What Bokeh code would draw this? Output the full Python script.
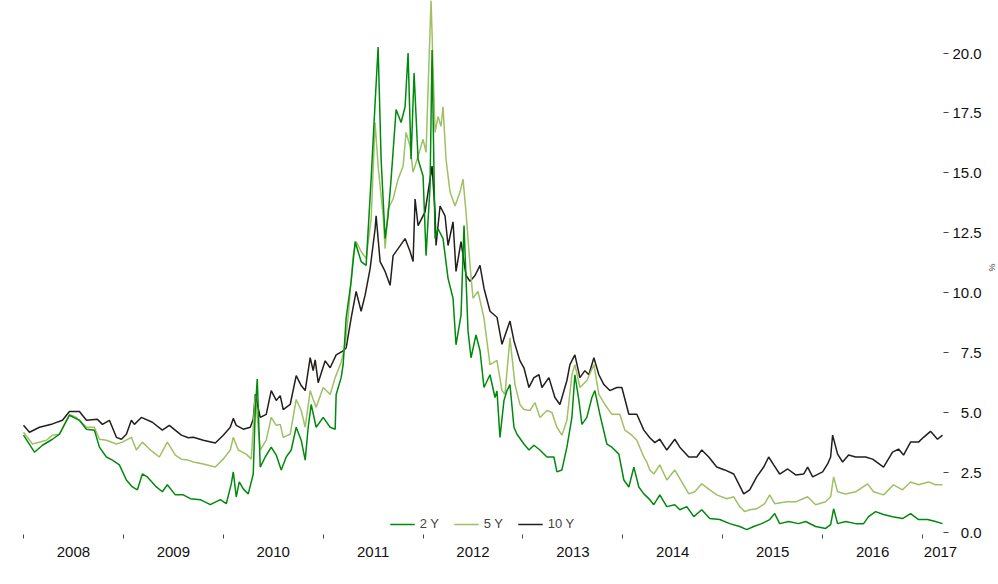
from bokeh.plotting import figure
from bokeh.models import (Range1d, LinearAxis, FixedTicker, CustomJSTickFormatter,
                          Legend, LegendItem)
from bokeh.embed import file_html
from bokeh.resources import INLINE

# ---- data (decimal years, % yields) ----
yr_10y = [2008.00,2008.06,2008.16,2008.29,2008.39,2008.46,2008.56,2008.63,2008.74,2008.79,
          2008.86,2008.93,2008.98,2009.03,2009.08,2009.11,2009.18,2009.29,2009.39,2009.46,
          2009.58,2009.65,2009.70,2009.80,2009.92,2010.00,2010.07,2010.10,2010.13,2010.20,
          2010.27,2010.30,2010.32,2010.37,2010.43,2010.48,2010.53,2010.57,2010.60,2010.67,
          2010.73,2010.78,2010.82,2010.87,2010.90,2010.92,2010.95,2011.02,2011.07,2011.13,
          2011.20,2011.23,2011.28,2011.33,2011.38,2011.42,2011.47,2011.52,2011.53,2011.57,
          2011.62,2011.67,2011.70,2011.75,2011.82,2011.87,2011.90,2011.92,2011.95,2012.00,
          2012.02,2012.05,2012.09,2012.12,2012.13,2012.17,2012.22,2012.25,2012.30,2012.33,
          2012.38,2012.43,2012.47,2012.52,2012.57,2012.61,2012.67,2012.74,2012.79,2012.87,
          2012.91,2012.97,2013.01,2013.06,2013.11,2013.16,2013.19,2013.26,2013.32,2013.37,
          2013.44,2013.47,2013.52,2013.57,2013.62,2013.66,2013.71,2013.76,2013.81,2013.87,
          2013.94,2013.99,2014.06,2014.14,2014.21,2014.27,2014.32,2014.37,2014.44,2014.52,
          2014.57,2014.66,2014.74,2014.79,2014.86,2014.94,2015.02,2015.11,2015.16,2015.21,
          2015.27,2015.34,2015.41,2015.46,2015.51,2015.57,2015.65,2015.73,2015.81,2015.85,
          2015.90,2016.00,2016.05,2016.08,2016.10,2016.15,2016.20,2016.26,2016.33,2016.43,
          2016.50,2016.61,2016.70,2016.76,2016.81,2016.88,2016.96,2017.01,2017.08,2017.15,
          2017.20]
yield_10y = [4.47,4.18,4.39,4.53,4.68,5.05,5.05,4.68,4.72,4.51,
             4.68,3.97,3.89,4.10,4.68,4.51,4.80,4.60,4.27,4.47,
             4.06,3.95,3.97,3.85,3.73,4.06,4.39,4.76,4.47,4.31,
             4.39,4.72,5.76,4.80,4.93,5.92,5.51,5.71,5.13,5.34,
             6.54,6.13,5.92,7.29,6.75,7.20,6.25,7.16,6.87,7.41,
             7.58,7.70,8.94,10.06,9.23,9.90,11.01,12.67,13.21,11.30,
             10.89,10.31,11.55,11.84,12.26,11.72,11.30,13.91,12.80,13.21,
             13.37,14.20,15.28,13.37,11.97,13.62,13.21,11.97,12.96,10.89,
             12.13,10.72,10.48,10.72,11.14,10.19,9.23,8.98,7.85,8.82,
             7.99,7.16,6.87,6.05,6.46,6.58,6.05,6.46,5.63,5.34,
             6.34,7.00,7.41,6.46,6.75,6.58,7.29,6.58,6.17,5.92,
             6.05,6.05,4.93,4.93,4.27,3.95,3.75,3.89,3.44,3.89,
             3.56,3.15,3.15,3.44,3.15,2.73,2.61,2.44,2.03,1.61,
             1.78,2.32,2.73,3.15,2.82,2.44,2.65,2.40,2.44,2.73,
             2.32,2.53,2.86,3.15,4.06,3.27,2.94,3.23,3.15,3.15,
             3.06,2.73,3.35,3.48,3.23,3.77,3.77,3.97,4.22,3.89,
             4.06]

yr_5y = [2008.00,2008.09,2008.23,2008.29,2008.36,2008.46,2008.53,2008.63,2008.71,2008.76,
         2008.83,2008.93,2008.99,2009.08,2009.13,2009.19,2009.26,2009.36,2009.44,2009.52,
         2009.58,2009.65,2009.70,2009.80,2009.92,2010.00,2010.07,2010.10,2010.15,2010.23,
         2010.28,2010.32,2010.37,2010.43,2010.48,2010.53,2010.57,2010.60,2010.67,2010.73,
         2010.78,2010.82,2010.87,2010.90,2010.93,2011.00,2011.07,2011.12,2011.18,2011.22,
         2011.25,2011.30,2011.33,2011.38,2011.43,2011.48,2011.52,2011.55,2011.60,2011.62,
         2011.65,2011.70,2011.75,2011.80,2011.83,2011.87,2011.90,2011.95,2012.00,2012.03,
         2012.05,2012.08,2012.12,2012.15,2012.18,2012.20,2012.23,2012.27,2012.32,2012.37,
         2012.40,2012.43,2012.47,2012.50,2012.55,2012.61,2012.67,2012.74,2012.79,2012.82,
         2012.87,2012.92,2012.97,2013.01,2013.07,2013.12,2013.17,2013.24,2013.29,2013.34,
         2013.39,2013.44,2013.49,2013.52,2013.57,2013.64,2013.71,2013.76,2013.82,2013.89,
         2013.97,2014.02,2014.09,2014.14,2014.21,2014.24,2014.27,2014.31,2014.37,2014.44,
         2014.52,2014.59,2014.66,2014.72,2014.79,2014.87,2014.94,2015.04,2015.11,2015.17,
         2015.22,2015.27,2015.34,2015.42,2015.47,2015.52,2015.64,2015.73,2015.85,2015.93,
         2016.03,2016.08,2016.11,2016.15,2016.23,2016.33,2016.45,2016.51,2016.61,2016.71,
         2016.80,2016.88,2016.96,2017.06,2017.13,2017.20]
yield_5y = [4.18,3.69,3.85,4.06,4.10,4.93,4.80,4.39,4.39,3.89,
            3.85,3.69,3.77,3.97,3.44,3.77,3.48,3.15,3.77,3.23,
            3.06,3.02,2.94,2.86,2.73,3.06,3.44,3.97,3.44,3.27,
            3.06,5.71,3.44,3.85,4.80,4.47,4.51,3.97,4.10,5.55,
            5.09,4.39,5.92,5.55,5.22,6.05,5.76,6.46,7.10,7.80,
            9.00,11.55,12.13,11.72,11.43,13.08,17.10,15.28,13.21,11.84,
            13.50,13.91,14.74,15.28,16.69,16.11,15.03,15.69,16.40,15.86,
            18.47,22.20,16.69,17.35,16.94,17.76,15.57,14.20,13.62,14.20,
            14.74,13.37,11.14,9.77,10.06,8.94,7.00,7.18,5.92,5.76,
            8.12,6.17,5.34,5.13,5.09,5.42,4.80,5.09,5.01,4.39,
            4.06,4.68,6.58,7.00,6.05,6.34,7.00,5.76,5.34,4.93,
            4.93,4.27,4.06,3.85,3.15,2.94,2.61,2.44,2.82,2.19,
            2.61,2.11,1.61,1.70,2.03,1.78,1.57,1.41,1.49,1.08,
            0.87,0.95,0.99,1.20,1.57,1.20,1.28,1.28,1.49,1.16,
            1.28,1.49,2.32,1.70,1.61,1.70,2.03,1.70,1.57,1.99,
            1.78,2.11,1.99,2.11,1.99,1.99]

yr_2y = [2008.00,2008.11,2008.19,2008.29,2008.36,2008.46,2008.56,2008.63,2008.71,2008.76,
         2008.83,2008.89,2008.96,2009.03,2009.09,2009.14,2009.19,2009.24,2009.33,2009.39,
         2009.44,2009.52,2009.60,2009.67,2009.77,2009.87,2009.97,2010.03,2010.08,2010.10,
         2010.13,2010.16,2010.20,2010.25,2010.30,2010.32,2010.34,2010.37,2010.42,2010.48,
         2010.53,2010.58,2010.63,2010.68,2010.73,2010.78,2010.82,2010.85,2010.88,2010.93,
         2011.00,2011.07,2011.12,2011.13,2011.18,2011.20,2011.23,2011.28,2011.32,2011.38,
         2011.43,2011.48,2011.52,2011.55,2011.58,2011.62,2011.65,2011.68,2011.73,2011.78,
         2011.82,2011.85,2011.88,2011.91,2011.95,2012.00,2012.03,2012.07,2012.09,2012.12,
         2012.15,2012.20,2012.25,2012.30,2012.33,2012.38,2012.41,2012.45,2012.48,2012.53,
         2012.57,2012.61,2012.67,2012.72,2012.74,2012.77,2012.81,2012.84,2012.87,2012.91,
         2012.94,2013.01,2013.06,2013.11,2013.17,2013.24,2013.31,2013.34,2013.39,2013.44,
         2013.49,2013.52,2013.56,2013.59,2013.64,2013.69,2013.72,2013.77,2013.84,2013.89,
         2013.96,2014.01,2014.06,2014.11,2014.16,2014.21,2014.27,2014.31,2014.37,2014.44,
         2014.52,2014.57,2014.64,2014.71,2014.79,2014.87,2014.97,2015.07,2015.17,2015.24,
         2015.31,2015.39,2015.47,2015.52,2015.57,2015.66,2015.76,2015.83,2015.93,2016.03,
         2016.08,2016.11,2016.15,2016.23,2016.33,2016.41,2016.46,2016.53,2016.61,2016.70,
         2016.80,2016.88,2016.96,2017.05,2017.13,2017.20]
yield_2y = [4.06,3.35,3.64,3.89,4.10,4.89,4.68,4.31,4.27,3.56,
            3.15,3.02,2.82,2.19,1.90,1.78,2.44,2.32,1.90,1.70,
            1.99,1.57,1.57,1.41,1.37,1.16,1.37,1.20,2.03,2.53,
            1.49,2.11,1.82,1.61,2.44,5.09,6.40,2.73,3.15,3.56,
            3.23,2.61,3.15,3.44,4.39,3.85,3.02,4.39,5.34,4.39,
            4.80,4.39,4.31,5.76,6.46,7.00,8.94,10.48,12.13,11.30,
            11.14,14.74,17.93,20.25,15.57,12.26,13.21,14.74,17.64,17.10,
            17.76,20.00,15.57,19.17,15.57,14.87,11.55,14.45,20.12,12.26,
            12.67,12.26,10.60,9.77,7.83,9.07,12.80,8.41,7.29,8.24,
            7.58,6.05,6.58,5.63,5.90,3.97,5.51,5.92,6.17,4.39,
            4.10,3.69,3.44,3.64,3.44,3.15,3.15,2.53,2.61,3.56,
            4.80,6.58,5.51,4.51,4.80,5.63,5.92,4.93,3.69,3.56,
            3.27,2.19,1.90,2.73,1.90,1.61,1.37,1.16,1.57,1.08,
            1.16,0.95,1.08,0.66,0.95,0.58,0.54,0.37,0.25,0.12,
            0.25,0.37,0.54,0.79,0.37,0.46,0.37,0.46,0.25,0.17,
            0.33,0.99,0.37,0.46,0.37,0.37,0.66,0.87,0.75,0.66,
            0.58,0.79,0.54,0.54,0.46,0.37]

year_starts = [2008, 2009, 2010, 2011, 2012, 2013, 2014, 2015, 2016, 2017]
year_label_pos = [2008.5, 2009.5, 2010.5, 2011.5, 2012.5, 2013.5, 2014.5, 2015.5, 2016.5, 2017.18]
y_ticks = [0.0, 2.5, 5.0, 7.5, 10.0, 12.5, 15.0, 17.5, 20.0]
series_labels = ["2 Y", "5 Y", "10 Y"]

FONT = "Liberation Sans"
C10, C5, C2 = "#231f1c", "#9fc064", "#008a0c"

p = figure(frame_width=922, frame_height=534, output_backend="svg", toolbar_location=None,
           x_range=Range1d(2007.98, 2017.21), y_range=Range1d(-0.083, 22.19),
           x_axis_location=None, y_axis_location=None,
           min_border_left=21, min_border_right=0, min_border_top=0, min_border_bottom=0)
p.grid.visible = False
p.outline_line_color = None
p.background_fill_color = "white"

r10 = p.line(yr_10y, yield_10y, line_color=C10, line_width=1.5)
r5 = p.line(yr_5y, yield_5y, line_color=C5, line_width=1.5)
r2 = p.line(yr_2y, yield_2y, line_color=C2, line_width=1.5)

xaxis = LinearAxis(ticker=FixedTicker(ticks=year_label_pos, minor_ticks=year_starts),
                   formatter=CustomJSTickFormatter(code="return String(Math.floor(tick));"))
xaxis.axis_line_color = None
xaxis.major_tick_line_color = None
xaxis.minor_tick_line_color = "#444444"
xaxis.minor_tick_in = 0
xaxis.minor_tick_out = 4
xaxis.major_tick_out = 0
xaxis.major_tick_in = 0
xaxis.major_label_standoff = 8
xaxis.axis_label_standoff = 0
xaxis.major_label_text_font = FONT
xaxis.major_label_text_font_size = "15px"
xaxis.major_label_text_color = "#111111"
p.add_layout(xaxis, "below")

yaxis = LinearAxis(ticker=FixedTicker(ticks=y_ticks),
                   formatter=CustomJSTickFormatter(
                       code="var s = tick.toFixed(1); return tick < 10 ? '\u2007' + s : s;"),
                   axis_label="%")
yaxis.axis_line_color = None
yaxis.major_tick_line_color = "#444444"
yaxis.major_tick_in = 0
yaxis.major_tick_out = 5
yaxis.minor_tick_line_color = None
yaxis.major_label_standoff = 4
yaxis.major_label_text_font = FONT
yaxis.major_label_text_font_size = "15px"
yaxis.major_label_text_color = "#111111"
yaxis.axis_label_text_font = FONT
yaxis.axis_label_text_font_size = "9px"
yaxis.axis_label_text_font_style = "normal"
yaxis.axis_label_standoff = 2
p.add_layout(yaxis, "right")

# legend kept inside the frame, in the empty band at the bottom centre
legend = Legend(items=[LegendItem(label=series_labels[0], renderers=[r2]),
                       LegendItem(label=series_labels[1], renderers=[r5]),
                       LegendItem(label=series_labels[2], renderers=[r10])],
                orientation="horizontal", location="bottom_center",
                border_line_color=None, background_fill_alpha=0,
                label_text_font=FONT, label_text_font_size="13px",
                glyph_width=25, glyph_height=12, label_height=12,
                spacing=14, padding=0, margin=3)
p.add_layout(legend, "center")

open("out.html", "w").write(file_html(p, INLINE))
